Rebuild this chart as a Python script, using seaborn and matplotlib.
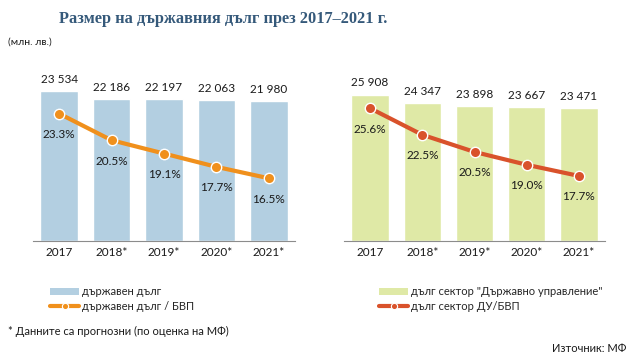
import numpy as np
import pandas as pd
import matplotlib
matplotlib.use("Agg")
import matplotlib.pyplot as plt
import seaborn as sns
from matplotlib.patches import Patch
from matplotlib.lines import Line2D

# data
years = ["2017", "2018*", "2019*", "2020*", "2021*"]
debt = [23534, 22186, 22197, 22063, 21980]
debt_gdp = [23.3, 20.5, 19.1, 17.7, 16.5]
gov_debt = [25908, 24347, 23898, 23667, 23471]
gov_debt_gdp = [25.6, 22.5, 20.5, 19.0, 17.7]

sns.set_theme(style="white")
plt.rcParams['font.family'] = ['Lato', 'DejaVu Sans']

blue_bar = "#b3cfe1"
orange = "#f0901c"
green_bar = "#dfe9a6"
red = "#d9522b"
txt = "#1a1a1a"


def fmt(v):
    return f"{v:,}".replace(",", " ")


def panel(ax, vals, pct, bar_col, line_col, ymax, ylim2):
    df = pd.DataFrame({"year": years, "val": vals, "pct": pct})
    sns.barplot(data=df, x="year", y="val", color=bar_col, width=0.72,
                saturation=1, ax=ax)
    ax.set_ylim(0, ymax)
    ax.set_xlim(-0.5, len(years) - 0.5)
    for i, v in enumerate(vals):
        ax.text(i, v + ymax * 0.035, fmt(v), ha="center", va="bottom",
                fontsize=8.5, color=txt)
    ax.set_xlabel("")
    ax.set_ylabel("")
    ax.set_yticks([])
    for s in ["top", "right", "left"]:
        ax.spines[s].set_visible(False)
    ax.spines["bottom"].set_color("#8c8c8c")
    ax.spines["bottom"].set_linewidth(0.8)
    ax.tick_params(axis="x", length=0, labelsize=8.5, labelcolor=txt, pad=4)
    ax.set_xticks(np.arange(-0.5, len(years)), minor=True)
    ax.tick_params(axis="x", which="minor", length=4, width=0.8,
                   color="#8c8c8c", direction="out")

    ax2 = ax.twinx()
    sns.lineplot(data=df, x="year", y="pct", color=line_col, lw=3,
                 marker="o", markersize=7.5, markeredgecolor="white",
                 markeredgewidth=1, ax=ax2)
    ax2.set_ylim(*ylim2)
    ax2.set_yticks([])
    ax2.set_ylabel("")
    for s in ["top", "right", "left", "bottom"]:
        ax2.spines[s].set_visible(False)
    for i, p in enumerate(pct):
        ax2.annotate(f"{p:.1f}%", (i, p), xytext=(0, -11),
                     textcoords="offset points", ha="center", va="top",
                     fontsize=8.5, color=txt)
    return ax2


fig = plt.figure(figsize=(6.3, 3.59), dpi=100)
axL = fig.add_axes([33 / 630, 1 - 241 / 359, 262 / 630, 173 / 359])
axR = fig.add_axes([344 / 630, 1 - 241 / 359, 261 / 630, 173 / 359])

panel(axL, debt, debt_gdp, blue_bar, orange, 27100, (9.9, 28.1))
panel(axR, gov_debt, gov_debt_gdp, green_bar, red, 30600, (10.1, 30.3))

fig.text(59 / 630, 1 - 19 / 359, "Размер на държавния дълг през 2017–2021 г.",
         family=["Liberation Serif", "DejaVu Serif"], fontweight="bold",
         fontsize=11.8, color="#35597a", va="center")
fig.text(8 / 630, 1 - 42 / 359, "(млн. лв.)", fontsize=7.5, color=txt,
         va="center")

h1 = [Patch(facecolor=blue_bar, edgecolor="none"),
      Line2D([], [], color=orange, lw=3, marker="o", markersize=4.5,
             markeredgecolor="white", markeredgewidth=0.8)]
fig.legend(h1, ["държавен дълг", "държавен дълг / БВП"],
           loc="upper left", bbox_to_anchor=(46 / 630, 1 - 282 / 359),
           frameon=False, fontsize=8, handlelength=2.6, handleheight=0.7,
           handletextpad=0.2, labelspacing=0.35, borderaxespad=0)

h2 = [Patch(facecolor=green_bar, edgecolor="none"),
      Line2D([], [], color=red, lw=3, marker="o", markersize=4.5,
             markeredgecolor="white", markeredgewidth=0.8)]
fig.legend(h2, ['дълг сектор "Държавно управление"', "дълг сектор ДУ/БВП"],
           loc="upper left", bbox_to_anchor=(375 / 630, 1 - 282 / 359),
           frameon=False, fontsize=8, handlelength=2.6, handleheight=0.7,
           handletextpad=0.2, labelspacing=0.35, borderaxespad=0)

fig.text(8 / 630, 1 - 331 / 359, "* Данните са прогнозни (по оценка на МФ)",
         fontsize=8, color=txt, va="center")
fig.text(626 / 630, 1 - 349 / 359, "Източник: МФ", fontsize=8, color=txt,
         va="center", ha="right")

fig.savefig("out.png", dpi=100)
